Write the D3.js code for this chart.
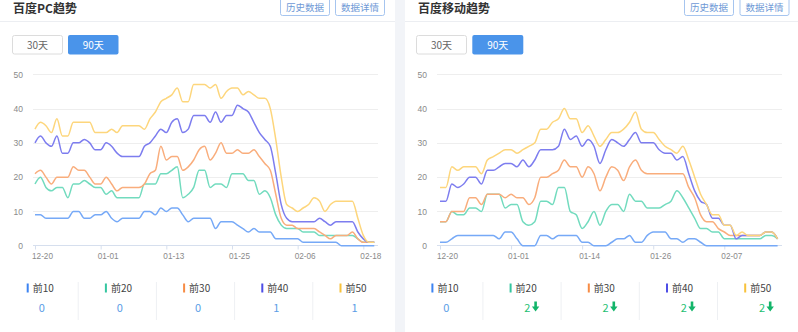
<!DOCTYPE html>
<html><head><meta charset="utf-8">
<script src="https://cdn.jsdelivr.net/npm/d3@7/dist/d3.min.js"></script>
<style>
body{margin:0;background:#fff;}
svg{display:block;font-family:"Noto Sans CJK SC","Noto Sans",sans-serif;}
</style></head>
<body><svg id="c" width="798" height="332"></svg>
<script>
// ---------- data ----------
const leftDates = ["12-20","12-21","12-22","12-23","12-24","12-25","12-26","12-27","12-28","12-29","12-30","12-31",
"01-01","01-02","01-03","01-04","01-05","01-06","01-07","01-08","01-09","01-10","01-11","01-12","01-13","01-14","01-15","01-16","01-17","01-18","01-19","01-20","01-21","01-22","01-23","01-24","01-25","01-26","01-27","01-28","01-29","01-30","01-31",
"02-01","02-02","02-03","02-04","02-05","02-06","02-07","02-08","02-09","02-10","02-11","02-12","02-13","02-14","02-15","02-16","02-17","02-18","02-19","02-20"];
const leftTop10 = [9,9,8,8,8,8,8,10,10,8,8,9,9,10,8,7,8,8,8,8,10,10,9,11,10,11,11,9,7,8,8,8,8,5,7,7,7,6,5,4,5,4,4,4,2,2,2,2,2,1,1,1,1,1,1,1,0,0,0,0,0,0,0];
const leftTop20 = [18,20,17,16,17,17,14,18,18,19,18,17,17,15,16,14,14,14,14,14,18,18,18,21,21,22,23,14,15,17,22,22,17,18,18,17,21,21,21,19,19,15,16,14,9,6,5,5,5,4,4,4,3,3,3,3,3,3,3,2,1,1,1];
const leftTop30 = [21,22,20,18,20,20,20,23,22,22,20,18,18,20,18,16,17,17,17,17,18,21,22,29,25,26,26,22,23,25,28,29,25,27,30,27,27,28,27,27,28,26,24,22,15,8,6,6,5,5,5,5,4,3,2,3,3,3,4,2,1,1,1];
const leftTop40 = [30,32,30,29,32,27,27,30,30,31,30,28,28,30,29,27,26,26,26,26,29,30,32,34,33,36,37,33,34,38,38,38,36,39,36,38,38,41,40,39,36,33,31,29,21,12,8,7,7,7,7,7,8,7,6,7,7,7,7,4,2,1,1];
const leftTop50 = [34,36,35,33,37,32,32,36,36,36,36,33,33,33,34,33,35,35,35,35,34,37,39,42,43,44,46,42,42,47,47,47,46,47,43,45,46,46,44,45,44,43,43,40,31,20,12,11,10,11,12,14,13,10,12,13,13,13,13,8,3,1,1];

const rightDates = ["12-20","12-21","12-22","12-23","12-24","12-25","12-26","12-27","12-28","12-29","12-30","12-31",
"01-01","01-02","01-03","01-04","01-05","01-06","01-08","01-09","01-10","01-11","01-12","01-13","01-14","01-15","01-16","01-17","01-18","01-19","01-20","01-21","01-22","01-23","01-24","01-25","01-26","01-27","01-28","01-29","01-30","01-31",
"02-01","02-02","02-03","02-04","02-05","02-06","02-07","02-08","02-09","02-10","02-11","02-12","02-13","02-14","02-15","02-16"];
const rightTop10 = [1,1,2,3,3,3,3,3,3,3,2,4,4,2,0,0,0,3,3,2,3,3,3,3,1,1,0,0,0,1,2,2,3,1,1,3,4,4,4,2,2,1,2,2,1,0,0,0,0,0,0,0,0,0,0,0,0,0];
const rightTop20 = [7,7,10,9,9,11,11,10,15,15,15,11,12,12,7,6,7,13,13,12,17,17,10,9,5,7,10,6,10,12,12,10,15,13,13,11,11,11,12,13,16,14,11,8,5,5,4,4,2,2,2,2,2,2,2,3,3,2];
const rightTop30 = [7,7,10,10,10,14,14,12,15,15,15,14,15,14,14,12,14,20,20,21,22,25,23,23,20,23,21,16,20,23,22,19,23,25,22,21,21,21,21,21,21,21,17,14,9,7,7,5,4,3,3,3,3,3,3,4,4,2];
const rightTop40 = [13,13,18,17,18,20,20,18,22,22,23,24,24,23,25,23,25,28,28,28,29,34,31,32,29,31,29,24,28,31,30,29,31,33,30,30,30,28,27,27,25,26,21,16,13,12,8,8,6,6,2,3,3,3,3,4,4,2];
const rightTop50 = [17,17,23,22,23,23,23,21,25,26,27,28,28,27,28,29,30,34,34,36,37,40,37,37,33,35,32,29,31,33,33,34,36,39,34,33,33,31,29,28,27,29,25,20,15,12,9,9,6,6,3,4,3,3,3,4,4,2];

const seriesNames = ["前10","前20","前30","前40","前50"];
const lineColors = ["#76a9f7","#72dbbe","#f9ad7c","#7d7def","#fdd67c"];
const legendColors = ["#3d84f2","#35c6a0","#f78c45","#4e4ee6","#f8c23c"];
const yTicks = [0,10,20,30,40,50];
const leftValues = ["0","0","0","1","1"];
const rightValues = ["0","2","2","2","2"];
const rightTrend = [null,"down","down","down","down"];
const leftTitle = "百度PC趋势", rightTitle = "百度移动趋势";
const btnLabels = ["历史数据","数据详情"], rangeLabels = ["30天","90天"];

// ---------- drawing ----------
const svg = d3.select("#c");
svg.append("rect").attr("x",395).attr("y",0).attr("width",10).attr("height",332).attr("fill","#f2f4f8");

function panel(cfg){
  const g = svg.append("g");
  // title
  g.append("text").attr("x",cfg.px+13).attr("y",12.5).attr("font-size",12).attr("font-weight",700)
    .attr("fill","#333").text(cfg.title);
  g.append("line").attr("x1",cfg.px).attr("x2",cfg.px+cfg.pw).attr("y1",21.5).attr("y2",21.5)
    .attr("stroke","#eceef2");
  // header buttons
  cfg.btnX.forEach((bx,i)=>{
    g.append("rect").attr("x",bx+0.5).attr("y",-3).attr("width",49).attr("height",18.5).attr("rx",2)
      .attr("fill","#fff").attr("stroke","#a6c5ef");
    g.append("text").attr("x",bx+25).attr("y",10.5).attr("text-anchor","middle").attr("font-size",9.5)
      .attr("fill","#6e99d6").text(btnLabels[i]);
  });
  // range buttons
  g.append("rect").attr("x",cfg.rX[0]+0.5).attr("y",35.5).attr("width",50).attr("height",18.5).attr("rx",2)
    .attr("fill","#fff").attr("stroke","#dcdcdc");
  g.append("text").attr("x",cfg.rX[0]+25.5).attr("y",48.5).attr("text-anchor","middle").attr("font-size",10)
    .attr("fill","#666").text(rangeLabels[0]);
  g.append("rect").attr("x",cfg.rX[1]).attr("y",35).attr("width",cfg.rW).attr("height",19.5).attr("rx",2)
    .attr("fill","#4a94ea");
  g.append("text").attr("x",cfg.rX[1]+cfg.rW/2).attr("y",48.5).attr("text-anchor","middle").attr("font-size",10)
    .attr("fill","#fff").text(rangeLabels[1]);

  // scales
  const x = d3.scalePoint().domain(cfg.dates).range(cfg.xr);
  const y = d3.scaleLinear().domain([0,50]).range([245.7,74.3]);
  // grid
  g.append("g").selectAll("line").data(yTicks.slice(1)).join("line")
    .attr("x1",cfg.gx[0]).attr("x2",cfg.gx[1]).attr("y1",d=>Math.round(y(d))+0.5).attr("y2",d=>Math.round(y(d))+0.5)
    .attr("stroke","#eeeeee");
  // y labels
  const ya = g.append("g").attr("transform",`translate(${cfg.gx[0]},0)`)
    .call(d3.axisLeft(y).tickValues(yTicks).tickSize(0).tickPadding(10));
  ya.select(".domain").remove();
  ya.selectAll("text").attr("font-size",8.5).attr("fill","#8a8a8a").attr("font-family","Liberation Sans, sans-serif");
  // x axis
  const tickVals = cfg.dates.filter((d,i)=>i%12===0);
  const xa = g.append("g").attr("transform","translate(0,245.5)")
    .call(d3.axisBottom(x).tickValues(tickVals).tickSize(4).tickPadding(4));
  xa.select(".domain").remove();
  xa.selectAll("line").attr("stroke","#d6dfee");
  xa.selectAll("text").attr("dx",7).attr("font-size",8.2).attr("fill","#8a8a8a")
    .attr("font-family","Liberation Sans, sans-serif");
  g.append("line").attr("x1",cfg.gx[0]).attr("x2",cfg.gx[1]).attr("y1",245.5).attr("y2",245.5)
    .attr("stroke","#d6dfee");
  // lines
  const line = d3.line().x((d,i)=>x(cfg.dates[i])).y(d=>y(d)).curve(d3.curveMonotoneX);
  cfg.series.forEach((s,k)=>{
    g.append("path").datum(s).attr("d",line).attr("fill","none")
      .attr("stroke",lineColors[k]).attr("stroke-width",1.5);
  });
  // legend
  const cw = 78.2;
  for(let k=0;k<5;k++){
    const cx = cfg.lx + k*cw + 39;
    if(k>0) g.append("line").attr("x1",cfg.lx+k*cw).attr("x2",cfg.lx+k*cw).attr("y1",282).attr("y2",320)
      .attr("stroke","#eef0f3");
    g.append("rect").attr("x",cx-12.3).attr("y",283.5).attr("width",2).attr("height",9).attr("fill",legendColors[k]);
    g.append("text").attr("x",cx-6.3).attr("y",292).attr("font-size",10).attr("fill","#444").text(seriesNames[k]);
    const v = cfg.values[k], tr = cfg.trend ? cfg.trend[k] : null;
    if(!tr){
      g.append("text").attr("x",cx+2.7).attr("y",311.5).attr("text-anchor","middle").attr("font-size",11)
        .attr("fill","#5b9de6").text(v);
    } else {
      g.append("text").attr("x",cx+2.4).attr("y",311.5).attr("font-size",11)
        .attr("fill","#1fbf72").text(v);
      const ax = cx+13.7, ay = 301.5;
      g.append("path").attr("d",`M${ax-1.3},${ay} h2.6 v5 h2.4 l-3.7,5 l-3.7,-5 h2.4 z`).attr("fill","#13b56a");
    }
  }
}

panel({px:0,pw:395,title:leftTitle,btnX:[280,335],rX:[12,68],rW:50.5,
  dates:leftDates,xr:[35,35+62*5.472],gx:[33,378],
  series:[leftTop10,leftTop20,leftTop30,leftTop40,leftTop50],lx:0,values:leftValues,trend:null});
panel({px:405,pw:393,title:rightTitle,btnX:[684,739.5],rX:[416,472.3],rW:51,
  dates:rightDates,xr:[440,440+57*5.923],gx:[437,782],
  series:[rightTop10,rightTop20,rightTop30,rightTop40,rightTop50],lx:404.7,values:rightValues,trend:rightTrend});
</script></body></html>
